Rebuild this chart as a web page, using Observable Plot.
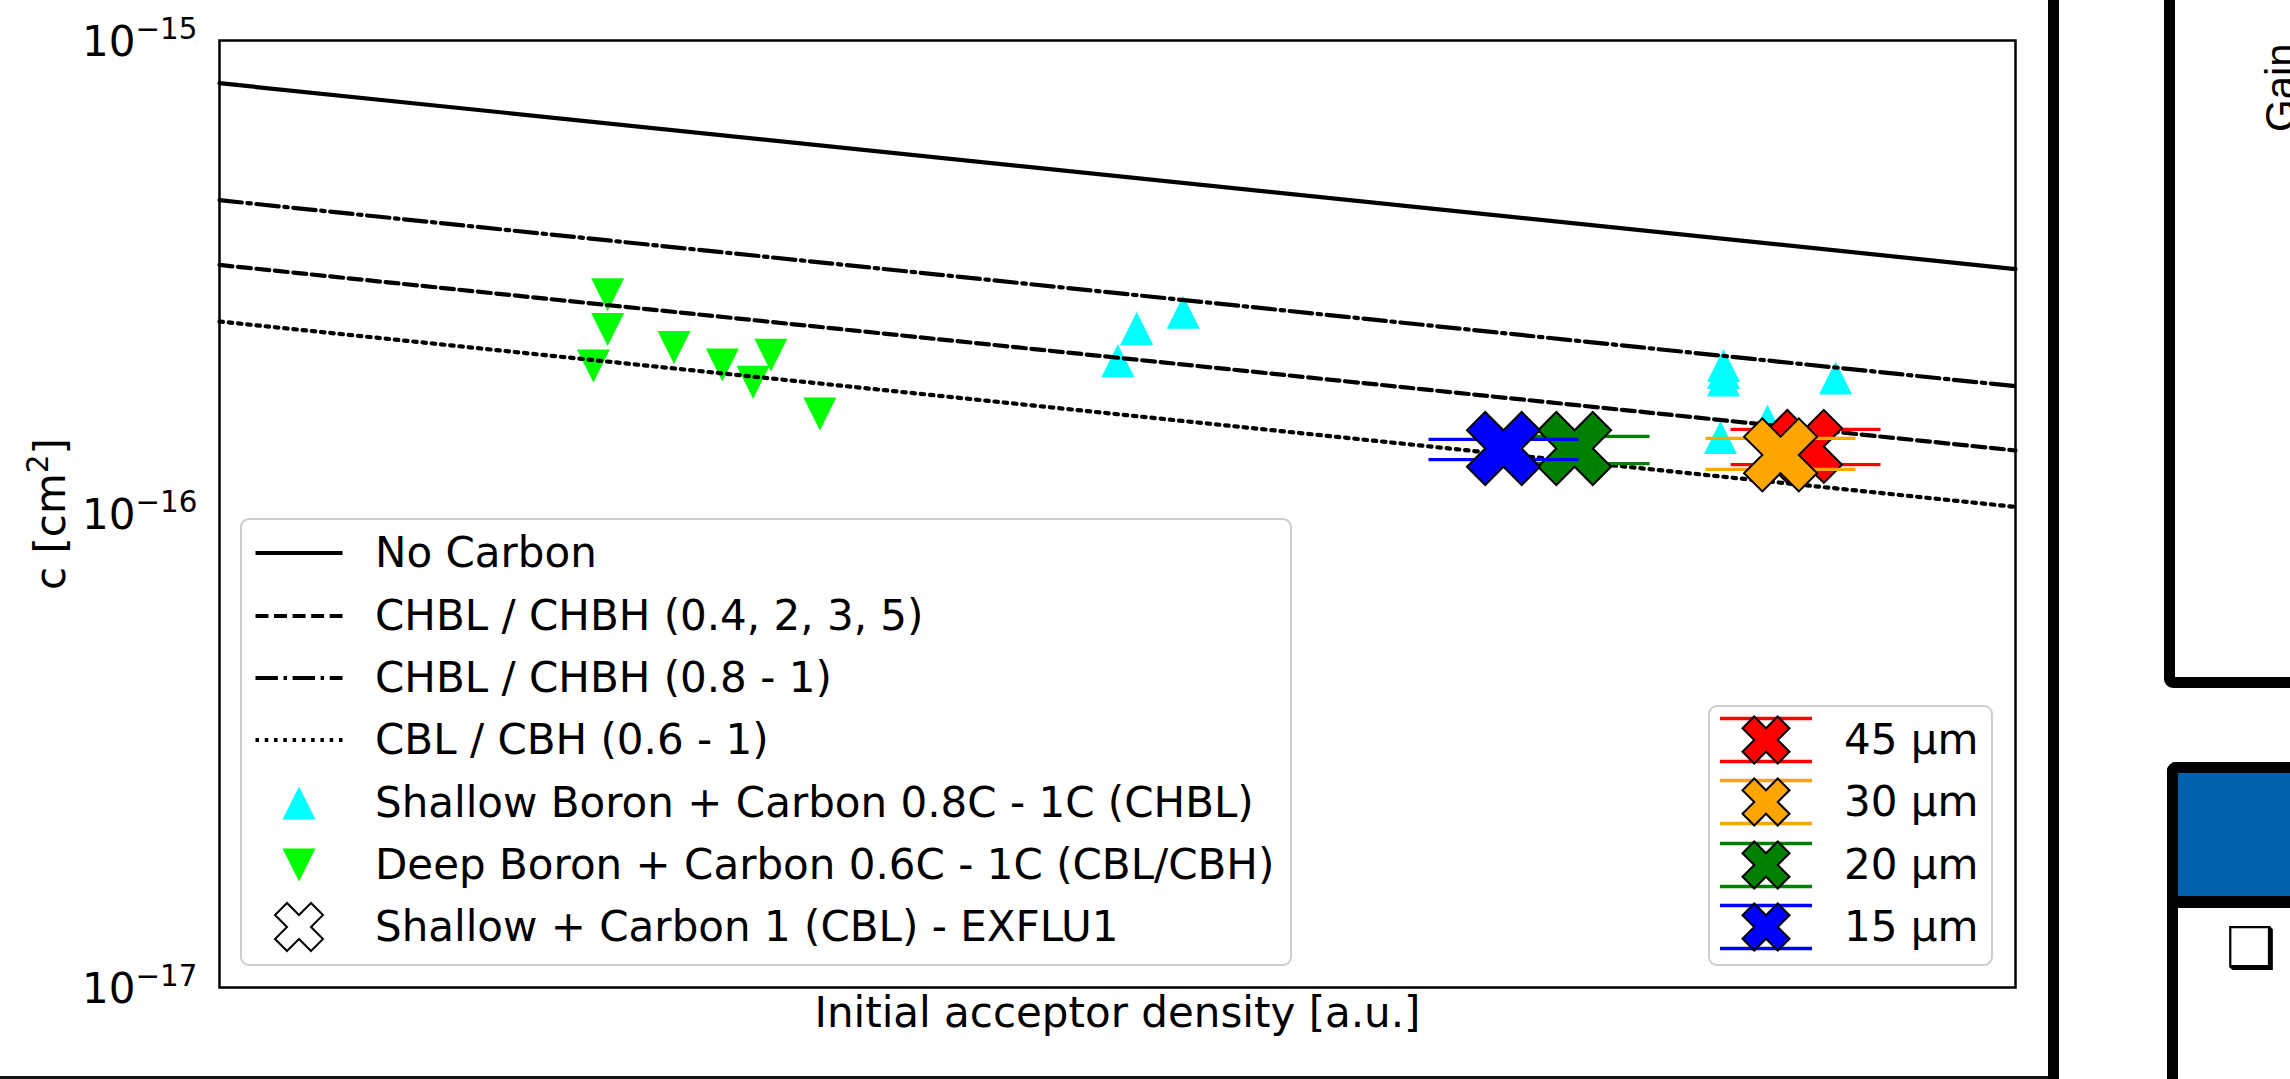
<!DOCTYPE html>
<html><head><meta charset="utf-8">
<script src="https://cdn.jsdelivr.net/npm/d3@7"></script>
<script src="https://cdn.jsdelivr.net/npm/@observablehq/plot@0.6"></script>
<style>
html,body{margin:0;padding:0;background:#fff;}
body{width:2290px;height:1079px;position:relative;overflow:hidden;font-family:"DejaVu Sans",sans-serif;}
#chart{position:absolute;left:0;top:0;}
#chart svg{display:block;}
.abs{position:absolute;}
.legend{position:absolute;box-sizing:border-box;border:2px solid #cccccc;border-radius:9px;background:rgba(255,255,255,0.8);}
.row{position:absolute;height:62px;line-height:62px;font-size:42px;white-space:nowrap;color:#000;font-family:"DejaVu Sans",sans-serif;}
.sw{position:absolute;}
</style></head><body>
<div id="chart"></div>
<script>
// ---------------- data ----------------
const lineX = [0, 1];
const noCarbonY = [8.125e-16, 3.291e-16];      // solid
const chblLowY  = [3.357e-16, 1.362e-16];      // dashed  CHBL / CHBH (0.4, 2, 3, 5)
const chblHighY = [4.600e-16, 1.862e-16];      // dash-dot CHBL / CHBH (0.8 - 1)
const cblY      = [2.550e-16, 1.035e-16];      // dotted  CBL / CBH (0.6 - 1)

const lineLabels = ["No Carbon", "CHBL / CHBH (0.4, 2, 3, 5)", "CHBL / CHBH (0.8 - 1)", "CBL / CBH (0.6 - 1)"];

const shallowX = [0.5002, 0.5107, 0.5366, 0.8374, 0.8374, 0.8374, 0.8357, 0.8619, 0.8998];
const shallowY = [2.108e-16, 2.464e-16, 2.667e-16, 2.059e-16, 1.990e-16, 1.919e-16, 1.450e-16, 1.571e-16, 1.937e-16];
const shallowLabel = "Shallow Boron + Carbon 0.8C - 1C (CHBL)";

const deepX = [0.2161, 0.2161, 0.2082, 0.2531, 0.2800, 0.2971, 0.3070, 0.3343];
const deepY = [2.906e-16, 2.454e-16, 2.053e-16, 2.247e-16, 2.063e-16, 1.897e-16, 2.165e-16, 1.627e-16];
const deepLabel = "Deep Boron + Carbon 0.6C - 1C (CBL/CBH)";

const exfluLabel = "Shallow + Carbon 1 (CBL) - EXFLU1";
const exfluLabels = ["45 µm", "30 µm", "20 µm", "15 µm"];
const exfluColors = ["#ff0000", "#ffa500", "#008000", "#0000ff"];
const exfluX  = [0.8831, 0.8692, 0.7545, 0.7149];
const exfluY  = [1.389e-16, 1.333e-16, 1.375e-16, 1.375e-16];
const exfluLo = [1.272e-16, 1.242e-16, 1.278e-16, 1.303e-16];
const exfluHi = [1.509e-16, 1.444e-16, 1.458e-16, 1.437e-16];

const yTicks = [1e-17, 1e-16, 1e-15];
const xLabel = "Initial acceptor density [a.u.]";
const yLabel = "c [cm^2]";

// ---------------- symbols ----------------
const rOf = size => Math.sqrt(size / Math.PI);
const triUp = {draw(ctx, size){const r = rOf(size); ctx.moveTo(0,-r); ctx.lineTo(r,r); ctx.lineTo(-r,r); ctx.closePath();}};
const triDown = {draw(ctx, size){const r = rOf(size); ctx.moveTo(0,r); ctx.lineTo(-r,-r); ctx.lineTo(r,-r); ctx.closePath();}};
const plusPts = [[-1,-3],[1,-3],[1,-1],[3,-1],[3,1],[1,1],[1,3],[-1,3],[-1,1],[-3,1],[-3,-1],[-1,-1]];
function xPath(ctx, r){
  const k = r / (4 / Math.SQRT2);
  plusPts.forEach(([x,y],i) => {
    const px = (x - y) / Math.SQRT2 * k, py = (x + y) / Math.SQRT2 * k;
    if (i) ctx.lineTo(px, py); else ctx.moveTo(px, py);
  });
  ctx.closePath();
}
const xSym = {draw(ctx, size){xPath(ctx, rOf(size));}};
const capSym = {draw(ctx, size){const r = rOf(size); ctx.moveTo(-r,0); ctx.lineTo(r,0);}};

const LW = 4.2;   // stroke width of the model lines
const DU = 3.5;   // dash unit
const dashes = [null, `${3.7*DU},${1.6*DU}`, `${6.4*DU},${1.6*DU},${1*DU},${1.6*DU}`, `${1*DU},${1.65*DU}`];
const lineSeries = [noCarbonY, chblLowY, chblHighY, cblY];

const shallowRows = shallowX.map((x,i)=>({x, y: shallowY[i]}));
const deepRows = deepX.map((x,i)=>({x, y: deepY[i]}));

const lineMarks = lineSeries.map((ys, k) =>
  Plot.line(lineX.map((x,i)=>({x, y: ys[i]})), {x:"x", y:"y", stroke:"black", strokeWidth: LW, strokeDasharray: dashes[k] ?? undefined})
);

const exfluMarks = exfluLabels.flatMap((lab, i) => {
  const row = [{x: exfluX[i], y: exfluY[i], lo: exfluLo[i], hi: exfluHi[i]}];
  const c = exfluColors[i];
  return [
    Plot.ruleX(row, {x:"x", y1:"lo", y2:"hi", stroke:c, strokeWidth:3.3}),
    Plot.dot(row, {x:"x", y:"lo", symbol:capSym, r:75, stroke:c, strokeWidth:3.3, fill:"none"}),
    Plot.dot(row, {x:"x", y:"hi", symbol:capSym, r:75, stroke:c, strokeWidth:3.3, fill:"none"}),
    Plot.dot(row, {x:"x", y:"y", symbol:xSym, r:36.5, fill:c, stroke:"black", strokeWidth:2})
  ];
});

const chart = Plot.plot({
  width: 2290, height: 1079,
  marginLeft: 219, marginRight: 275, marginTop: 40, marginBottom: 92,
  style: {fontFamily: '"DejaVu Sans", sans-serif', fontSize: "42px", background: "transparent", overflow: "visible"},
  x: {domain: [0, 1], axis: null},
  y: {type: "log", domain: [1e-17, 1e-15], axis: null},
  marks: [
    Plot.dot(shallowRows, {x:"x", y:"y", symbol: triUp, r: 16.5, fill: "#00ffff"}),
    Plot.dot(deepRows, {x:"x", y:"y", symbol: triDown, r: 16.5, fill: "#00ff00"}),
    ...lineMarks,
    ...exfluMarks,
    Plot.frame({stroke: "black", strokeWidth: 2.5}),
    Plot.axisY({ticks: yTicks, tickSize: 0, tickPadding: 22, dy: 2, label: null, fontSize: 42,
      tickFormat: d => "10^" + Math.round(Math.log10(d))}),
    Plot.text([xLabel], {frameAnchor: "bottom", dy: 26, lineAnchor: "middle", textAnchor: "middle", fontSize: 42, text: d => d}),
    Plot.text([yLabel], {frameAnchor: "left", dx: -168, rotate: -90, lineAnchor: "middle", textAnchor: "middle", fontSize: 42, text: d => d})
  ]
});
document.getElementById("chart").appendChild(chart);

// math-style superscripts
d3.select(chart).selectAll("text").each(function(){
  const s = d3.select(this);
  if (this.querySelector("tspan")) return;
  const t = s.text();
  if (!t.includes("^")) return;
  const [a, rest] = t.split("^");
  s.text(null);
  if (a === "10") {
    s.append("tspan").text(a);
    s.append("tspan").attr("font-size", "29.4px").attr("dy", -17).text(rest.replace("-", "\u2212"));
  } else {
    s.append("tspan").text(a);
    s.append("tspan").attr("font-size", "29.4px").attr("dy", -17).text(rest[0]);
    s.append("tspan").attr("dy", 17).text(rest.slice(1));
  }
});

// ---------------- legends ----------------
const body = d3.select("body");
function box(l, t, w, h){ body.append("div").attr("class","legend").style("left",l+"px").style("top",t+"px").style("width",w+"px").style("height",h+"px"); }
function rowText(txt, left, cy){ body.append("div").attr("class","row").style("left",left+"px").style("top",(cy-31)+"px").text(txt); }
function swatch(cx, cy){
  return body.append("svg").attr("class","sw").attr("width",100).attr("height",62)
    .style("left",(cx-50)+"px").style("top",(cy-31)+"px");
}
function symPath(sym, r){ const p = d3.path(); sym.draw(p, Math.PI*r*r); return p.toString(); }

box(240, 518, 1052, 448);
const rows1 = [553, 615.5, 678, 740, 802.5, 864.5, 927];
lineLabels.forEach((lab, k) => {
  const s = swatch(298.5, rows1[k]);
  s.append("line").attr("x1",6.5).attr("x2",93.5).attr("y1",31).attr("y2",31)
    .attr("stroke","black").attr("stroke-width",LW).attr("stroke-dasharray", dashes[k]);
  rowText(lab, 375, rows1[k]);
});
swatch(298.5, rows1[4]).append("path").attr("transform","translate(50,31)").attr("d", symPath(triUp,16.5)).attr("fill","#00ffff");
rowText(shallowLabel, 375, rows1[4]);
swatch(298.5, rows1[5]).append("path").attr("transform","translate(50,31)").attr("d", symPath(triDown,16.5)).attr("fill","#00ff00");
rowText(deepLabel, 375, rows1[5]);
swatch(298.5, rows1[6]).append("path").attr("transform","translate(50,31)").attr("d", symPath(xSym,24)).attr("fill","white").attr("stroke","black").attr("stroke-width",2);
rowText(exfluLabel, 375, rows1[6]);

box(1708, 705, 285, 261);
const rows2 = [740, 802.3, 864.6, 927];
exfluLabels.forEach((lab, i) => {
  const s = swatch(1766, rows2[i]);
  [31-21.5, 31+21.5].forEach(y => s.append("line").attr("x1",4).attr("x2",96).attr("y1",y).attr("y2",y).attr("stroke",exfluColors[i]).attr("stroke-width",3.3));
  s.append("path").attr("transform","translate(50,31)").attr("d", symPath(xSym,23.5)).attr("fill",exfluColors[i]).attr("stroke","black").attr("stroke-width",2);
  rowText(lab, 1844, rows2[i]);
});
</script>
<!-- surrounding page elements -->
<div class="abs" style="left:0;top:1076px;width:2048px;height:2.5px;background:#111"></div>
<div class="abs" style="left:2048px;top:0;width:11px;height:1079px;background:#000"></div>
<div class="abs" style="left:2164px;top:-30px;width:200px;height:718px;border:11px solid #000;border-radius:9px;box-sizing:border-box"></div>
<div class="abs" style="left:2259.5px;top:132px;transform-origin:0 0;transform:rotate(-90deg);font-family:'Liberation Sans',Arial,sans-serif;font-size:42px;line-height:42px;white-space:nowrap;color:#000">Gain</div>
<div class="abs" style="left:2167px;top:762px;width:200px;height:400px;border:11px solid #000;border-right:none;border-radius:9px 0 0 0;box-sizing:border-box;overflow:hidden">
  <div style="height:123px;background:#0060ab;border-bottom:12px solid #000"></div>
</div>
<div class="abs" style="left:2226px;top:918px;font-family:'DejaVu Sans';font-size:56px;line-height:60px;color:#000">❑</div>
</body></html>
